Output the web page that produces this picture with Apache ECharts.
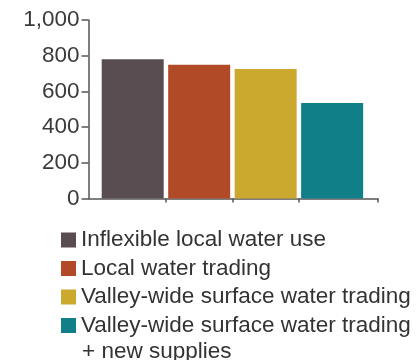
<!DOCTYPE html>
<html>
<head>
<meta charset="utf-8">
<script src="https://cdn.jsdelivr.net/npm/echarts@6/dist/echarts.min.js"></script>
<style>
  html, body { margin: 0; padding: 0; background: #ffffff; }
  #chart { width: 420px; height: 360px; }
</style>
</head>
<body>
<div id="chart"></div>
<script>
// Scenario names (legend) and their values
const scenarios = [
  'Inflexible local water use',
  'Local water trading',
  'Valley-wide surface water trading',
  'Valley-wide surface water trading + new supplies'
];
const legendLines = [
  ['Inflexible local water use'],
  ['Local water trading'],
  ['Valley-wide surface water trading'],
  ['Valley-wide surface water trading', '+ new supplies']
];
const values = [780, 750, 725, 535];
const colors = ['#594d52', '#b14a27', '#cba82e', '#117f88'];
const yTicks = [0, 200, 400, 600, 800, 1000];

const FONT = 'Liberation Sans';
const FONT_SIZE = 22.5;

const chart = echarts.init(document.getElementById('chart'));

// Bar positions along the x axis (one slot per scenario)
const slots = [1, 2, 3, 4];
const xMin = 0.335, xMax = 4.69;

const series = scenarios.map((name, i) => ({
  name: name,
  type: 'bar',
  barWidth: 62,
  barGap: '-100%',
  itemStyle: { color: colors[i] },
  data: [[slots[i], values[i]]]
}));

chart.setOption({
  animation: false,
  grid: { left: 88.5, right: 42, top: 20, bottom: 161.5 },
  xAxis: {
    type: 'value',
    min: xMin,
    max: xMax,
    axisLine: { show: true, lineStyle: { color: '#555', width: 1.5 } },
    axisTick: { show: true, length: 4, customValues: [1.5, 2.5, 3.5, xMax], lineStyle: { color: '#555', width: 1.5 } },
    axisLabel: { show: false },
    splitLine: { show: false }
  },
  yAxis: {
    type: 'value',
    min: yTicks[0],
    max: yTicks[yTicks.length - 1],
    interval: 200,
    axisLine: { show: true, lineStyle: { color: '#555', width: 1.5 } },
    axisTick: { show: true, length: 7, lineStyle: { color: '#555', width: 1.5 } },
    axisLabel: {
      margin: 9,
      color: '#3a3a3a',
      fontFamily: FONT,
      fontSize: FONT_SIZE,
      formatter: v => v.toLocaleString('en-US')
    },
    splitLine: { show: false }
  },
  legend: {
    orient: 'vertical',
    left: 61,
    top: 228,
    height: 130,
    padding: 0,
    itemWidth: 15,
    itemHeight: 15,
    itemGap: 4.5,
    icon: 'rect',
    textStyle: {
      color: '#333',
      fontFamily: FONT,
      fontSize: FONT_SIZE,
      lineHeight: 24
    },
    formatter: name => legendLines[scenarios.indexOf(name)][0],
    data: scenarios
  },
  // continuation line of the last legend entry
  graphic: [{
    type: 'text',
    left: 82,
    top: 340,
    style: {
      text: legendLines[3][1],
      fill: '#333',
      font: FONT_SIZE + 'px "' + FONT + '"'
    }
  }],
  series: series
});
</script>
</body>
</html>
